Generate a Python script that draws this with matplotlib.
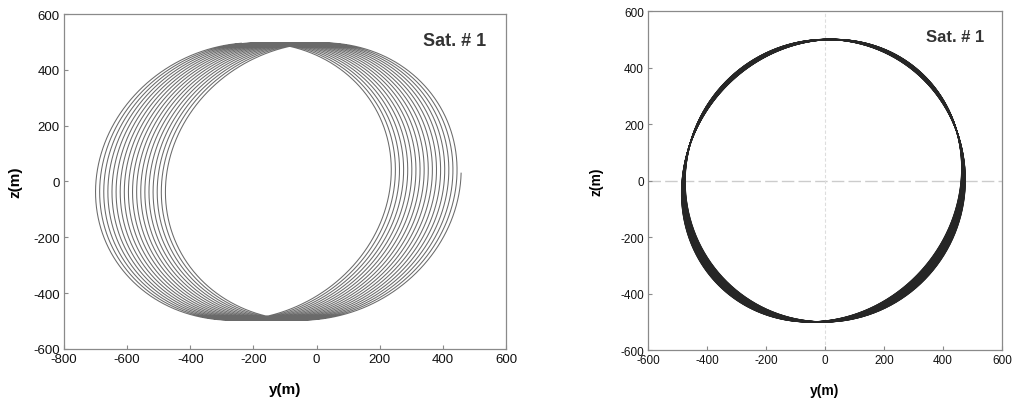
import numpy as np
import matplotlib
matplotlib.use("Agg")
from matplotlib import pyplot

pyplot.rcParams['font.family'] = ['Liberation Sans', 'DejaVu Sans']
pyplot.rcParams['axes.unicode_minus'] = False

# left panel: drifting relative orbit
drift_loops = 18            # number of loops drawn
drift_center_start = -238.  # y of ellipse centre on first loop [m]
drift_center_end = -7.      # y of ellipse centre on last loop [m]
drift_amp_y = 465.          # half width of one loop [m]
drift_amp_z = 497.          # half height of one loop [m]
drift_tilt = 0.08           # phase between y and z [rad]

# right panel: bounded orbit, first and last loop of the bundle
bound_loops = 40
bound_amp_y = [475., 475.]
bound_amp_z = [500., 500.]
bound_center_y = [-11., 1.]
bound_tilt = [0.089, 0.005]

x_ticks_left = [-800, -600, -400, -200, 0, 200, 400, 600]
x_ticks_right = [-600, -400, -200, 0, 200, 400, 600]
z_ticks = [-600, -400, -200, 0, 200, 400, 600]
label = "Sat. # 1"


def style(ax, xt, fs):
	for s in ax.spines.values():
		s.set_color('#8a8a8a')
		s.set_linewidth(0.9)
	ax.set_xticks(xt)
	ax.set_yticks(z_ticks)
	ax.set_xlim(xt[0], xt[-1])
	ax.set_ylim(z_ticks[0], z_ticks[-1])
	ax.tick_params(direction='in', length=3, color='#8a8a8a', labelsize=fs,
				   labelcolor='#111111', pad=3)


fig = pyplot.figure(figsize=(10.14, 4.06), dpi=100)

# ---- left
ax = fig.add_axes([0.063, 0.138, 0.436, 0.825])
th = np.linspace(np.pi/2, 2*np.pi*drift_loops - 0.02, 20000)
c = drift_center_start + (drift_center_end - drift_center_start)*(th - th[0])/(th[-1] - th[0])
y = c + drift_amp_y*np.cos(th)
z = drift_amp_z*np.sin(th + drift_tilt)
ax.plot(y, z, color='#6a6a6a', lw=0.75)
style(ax, x_ticks_left, 9.5)
ax.set_xlabel("y(m)", fontsize=11, fontweight='bold', labelpad=12)
ax.set_ylabel("z(m)", fontsize=11, fontweight='bold', labelpad=8)
ax.text(0.955, 0.92, label, transform=ax.transAxes, ha='right', va='center',
		fontsize=13, fontweight='bold', color='#333333')

# ---- right
ax2 = fig.add_axes([0.639, 0.135, 0.349, 0.835])
ax2.axhline(0, color='#cccccc', lw=1.0, dashes=(9, 3), zorder=1)
ax2.axvline(0, color='#dddddd', lw=0.8, dashes=(3, 2), zorder=1)
t = np.linspace(0, 2*np.pi, 720)
for s in np.linspace(0, 1, bound_loops):
	a = bound_amp_y[0] + (bound_amp_y[1] - bound_amp_y[0])*s
	b = bound_amp_z[0] + (bound_amp_z[1] - bound_amp_z[0])*s
	cy = bound_center_y[0] + (bound_center_y[1] - bound_center_y[0])*s
	d = bound_tilt[0] + (bound_tilt[1] - bound_tilt[0])*s
	ax2.plot(cy + a*np.cos(t), b*np.sin(t + d), color='#262626', lw=0.9, zorder=2)
style(ax2, x_ticks_right, 8.5)
ax2.set_xlabel("y(m)", fontsize=10, fontweight='bold', labelpad=12)
ax2.set_ylabel("z(m)", fontsize=10, fontweight='bold', labelpad=12)
ax2.text(0.95, 0.925, label, transform=ax2.transAxes, ha='right', va='center',
		 fontsize=12, fontweight='bold', color='#333333')

pyplot.savefig("out.png", dpi=100)
